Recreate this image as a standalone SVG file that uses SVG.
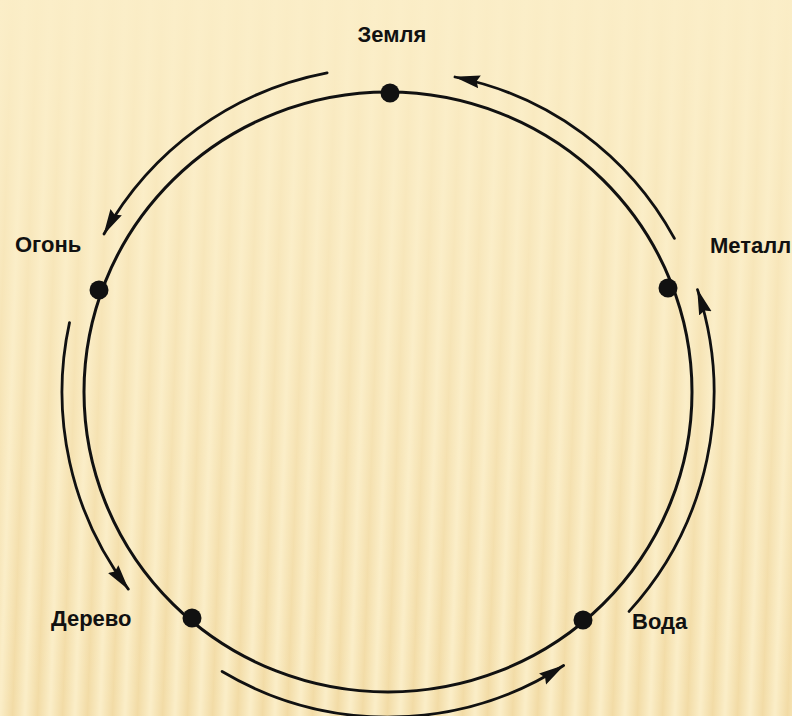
<svg xmlns="http://www.w3.org/2000/svg" width="792" height="716" viewBox="0 0 792 716">
  <defs>
    <linearGradient id="stripeGrad" x1="0" y1="0" x2="1" y2="0">
      <stop offset="0" stop-color="#fbeec8"/>
      <stop offset="0.5" stop-color="#f2dba5"/>
      <stop offset="1" stop-color="#fbeec8"/>
    </linearGradient>
    <pattern id="stripes" patternUnits="userSpaceOnUse" width="25" height="716" patternTransform="skewX(-2)">
      <rect x="0" y="0" width="25" height="716" fill="url(#stripeGrad)"/>
    </pattern>
    <linearGradient id="fade" x1="0" y1="0" x2="0" y2="1">
      <stop offset="0" stop-color="#fbeec8" stop-opacity="0.95"/>
      <stop offset="0.35" stop-color="#fbeec8" stop-opacity="0.6"/>
      <stop offset="1" stop-color="#fbeec8" stop-opacity="0"/>
    </linearGradient>
    <marker id="arrow" markerUnits="userSpaceOnUse" markerWidth="30" markerHeight="18" refX="25" refY="8" orient="auto">
      <path d="M0,1.5 L26,8 L0,14.5 L3,8 Z" fill="#111"/>
    </marker>
  </defs>
  <style>
    .ring { fill: none; stroke: #111; stroke-width: 3; }
    .flow { fill: none; stroke: #111; stroke-width: 2.8; stroke-linecap: round; marker-end: url(#arrow); }
    .dot { fill: #111; }
    .label { font-family: "Liberation Sans", Arial, sans-serif; font-weight: bold; font-size: 22px; fill: #111; }
  </style>

  <rect x="0" y="0" width="792" height="716" fill="url(#stripes)"/>
  <rect x="0" y="0" width="792" height="716" fill="url(#fade)"/>

  <g id="connectors">
    <ellipse class="ring" cx="388" cy="392" rx="304" ry="300"/>
    <path class="flow" d="M327.1,72.8 A325,325 0 0 0 104,234"/>
    <path class="flow" d="M674.4,238.4 A322,322 0 0 0 455,77"/>
    <path class="flow" d="M629.1,611.4 A326,326 0 0 0 697.5,289.6"/>
    <path class="flow" d="M222.1,671.5 A325,325 0 0 0 563.6,665.5"/>
    <path class="flow" d="M69.5,322.6 A326,326 0 0 0 128.3,589.1"/>
  </g>

  <g id="node-earth">
    <circle class="dot" cx="390" cy="93" r="9.5"/>
    <text class="label" x="392" y="42" text-anchor="middle">Земля</text>
  </g>
  <g id="node-fire">
    <circle class="dot" cx="99" cy="290" r="9.5"/>
    <text class="label" x="15" y="252">Огонь</text>
  </g>
  <g id="node-metal">
    <circle class="dot" cx="668" cy="288" r="9.5"/>
    <text class="label" x="710" y="253">Металл</text>
  </g>
  <g id="node-wood">
    <circle class="dot" cx="192" cy="618" r="9.5"/>
    <text class="label" x="51" y="626">Дерево</text>
  </g>
  <g id="node-water">
    <circle class="dot" cx="583" cy="620" r="9.5"/>
    <text class="label" x="632" y="629">Вода</text>
  </g>
</svg>
